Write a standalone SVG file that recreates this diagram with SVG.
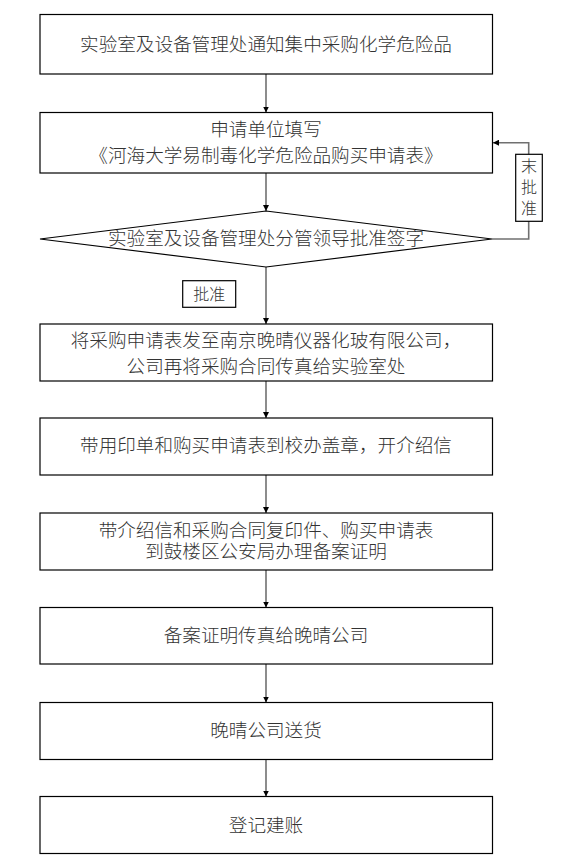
<svg xmlns="http://www.w3.org/2000/svg" width="572" height="868" viewBox="0 0 572 868">
<defs>
<marker id="ah" viewBox="0 0 10 10" refX="10" refY="5" markerWidth="6" markerHeight="6" markerUnits="userSpaceOnUse" orient="auto">
<path d="M0,0 L10,5 L0,10 Z" fill="#000"/>
</marker>
<style>
.box{fill:#fff;stroke:#000;stroke-width:1.2}
.lbl{fill:#fff;stroke:#000;stroke-width:1.2}
.t{font-family:"Liberation Serif","Noto Sans CJK SC",serif;font-size:18.6px;font-weight:300;fill:#333;text-anchor:middle;dominant-baseline:central}
.s{font-family:"Liberation Serif","Noto Sans CJK SC",serif;font-size:16px;font-weight:300;fill:#333;text-anchor:middle;dominant-baseline:central}
.c{fill:none;stroke:#707070;stroke-width:1.6}
</style>
</defs>
<rect width="572" height="868" fill="#fff"/>
<g id="connectors">
<path class="c" d="M266,74 V112.5" marker-end="url(#ah)"/>
<path class="c" d="M266,173 V211" marker-end="url(#ah)"/>
<path class="c" d="M266,267 V324" marker-end="url(#ah)"/>
<path class="c" d="M266,381 V418" marker-end="url(#ah)"/>
<path class="c" d="M266,475 V513" marker-end="url(#ah)"/>
<path class="c" d="M266,570 V607.5" marker-end="url(#ah)"/>
<path class="c" d="M266,664 V702.5" marker-end="url(#ah)"/>
<path class="c" d="M266,759.5 V796.5" marker-end="url(#ah)"/>
<path class="c" d="M492,239 H528.7 V142.7 H493" marker-end="url(#ah)"/>
</g>
<g id="label-approved">
<rect class="lbl" x="182.7" y="280.7" width="53" height="26.6"/>
<text class="s" x="209.2" y="294">批准</text>
</g>
<g id="label-not-approved">
<rect class="lbl" x="515.7" y="154.3" width="26.6" height="67"/>
<text class="s" x="529" y="166.5">末</text>
<text class="s" x="529" y="187.5">批</text>
<text class="s" x="529" y="208.5">准</text>
</g>
<g id="n1">
<rect class="box" x="40" y="14.5" width="452.5" height="59.5"/>
<text class="t" x="266" y="44">实验室及设备管理处通知集中采购化学危险品</text>
</g>
<g id="n2">
<rect class="box" x="40" y="112.5" width="452.5" height="60.5"/>
<text class="t" x="266" y="129">申请单位填写</text>
<text class="t" x="266" y="155">《河海大学易制毒化学危险品购买申请表》</text>
</g>
<g id="n3">
<polygon class="box" points="266,211 492,239 266,267 40,239"/>
<text class="t" x="266" y="238">实验室及设备管理处分管领导批准签字</text>
</g>
<g id="n4">
<rect class="box" x="40" y="324" width="452.5" height="57"/>
<text class="t" x="266" y="340">将采购申请表发至南京晚晴仪器化玻有限公司，</text>
<text class="t" x="266" y="366">公司再将采购合同传真给实验室处</text>
</g>
<g id="n5">
<rect class="box" x="40" y="418" width="452.5" height="57"/>
<text class="t" x="266" y="445">带用印单和购买申请表到校办盖章，开介绍信</text>
</g>
<g id="n6">
<rect class="box" x="40" y="513" width="452.5" height="57"/>
<text class="t" x="266" y="530">带介绍信和采购合同复印件、购买申请表</text>
<text class="t" x="266" y="551">到鼓楼区公安局办理备案证明</text>
</g>
<g id="n7">
<rect class="box" x="40" y="607.5" width="452.5" height="56.5"/>
<text class="t" x="266" y="635">备案证明传真给晚晴公司</text>
</g>
<g id="n8">
<rect class="box" x="40" y="702.5" width="452.5" height="57"/>
<text class="t" x="266" y="730">晚晴公司送货</text>
</g>
<g id="n9">
<rect class="box" x="40" y="796.5" width="452.5" height="57"/>
<text class="t" x="266" y="825">登记建账</text>
</g>
</svg>
